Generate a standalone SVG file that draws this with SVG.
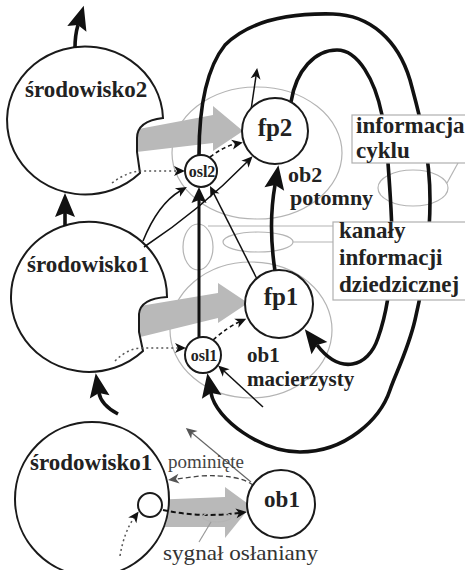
<svg xmlns="http://www.w3.org/2000/svg" width="465" height="570" viewBox="0 0 465 570">
<style>
.bg{fill:#ffffff}
.reg{fill:none;stroke:#b4b4b4;stroke-width:1.2}
.flow{fill:#b9b9b9;stroke:none}
.env{fill:#ffffff;stroke:#1a1a1a;stroke-width:2}
.nd{fill:#ffffff;stroke:#1a1a1a;stroke-width:2}
.box{fill:#ffffff;stroke:#b0b0b0;stroke-width:1.2}
.thick{fill:none;stroke:#111;stroke-width:3.6;stroke-linecap:butt}
.mid{fill:none;stroke:#111;stroke-width:3}
.thin{fill:none;stroke:#111;stroke-width:1.5}
.dash{fill:none;stroke:#111;stroke-width:1.6;stroke-dasharray:4,3}
.dot{fill:none;stroke:#555;stroke-width:1.5;stroke-dasharray:2,3}
.t{font-family:"Liberation Serif","Times New Roman",serif;font-weight:bold;fill:#222}
.tn{font-family:"Liberation Serif","Times New Roman",serif;font-weight:normal}
</style>
<defs>
<marker id="big" viewBox="-26 -12 28 24" refX="-20" refY="0" markerWidth="28" markerHeight="24" markerUnits="userSpaceOnUse" orient="auto"><path d="M0,0 L-24,-10 L-20,0 L-24,10 Z" fill="#111"/></marker>
<marker id="med" viewBox="-18 -9 20 18" refX="-13" refY="0" markerWidth="20" markerHeight="18" markerUnits="userSpaceOnUse" orient="auto"><path d="M0,0 L-16,-7.5 L-13,0 L-16,7.5 Z" fill="#111"/></marker>
<marker id="sm" viewBox="-12 -6 13 12" refX="-8" refY="0" markerWidth="13" markerHeight="12" markerUnits="userSpaceOnUse" orient="auto"><path d="M0,0 L-11,-5 L-8,0 L-11,5 Z" fill="#111"/></marker>
<marker id="smg" viewBox="-12 -6 13 12" refX="-8" refY="0" markerWidth="13" markerHeight="12" markerUnits="userSpaceOnUse" orient="auto"><path d="M0,0 L-11,-5 L-8,0 L-11,5 Z" fill="#555"/></marker>
</defs>
<rect class="bg" x="0" y="0" width="465" height="570"/>

<g id="regions">
<ellipse class="reg" cx="257" cy="153" rx="85" ry="66"/>
<ellipse class="reg" cx="251" cy="330" rx="81" ry="68"/>
<ellipse class="reg" cx="198" cy="247" rx="15" ry="23"/>
<ellipse class="reg" cx="258" cy="242" rx="35" ry="10"/>
<ellipse class="reg" cx="413" cy="188" rx="35" ry="18"/>
<line class="reg" x1="208" y1="226" x2="333" y2="226"/>
<line class="reg" x1="293" y1="242" x2="333" y2="242"/>
<line class="reg" x1="447" y1="183" x2="458" y2="163"/>
</g>

<g id="flows">
<path class="flow" d="M128,131 L213,115 L213,106 L243,131 L213,151 L213,143 L128,153 Z"/>
<path class="flow" d="M128,308 L218,293 L218,283 L248,303 L218,323 L218,318 L128,340 Z"/>
<path class="flow" d="M150,500 L225,497 L225,487 L251,506 L225,538 L225,527 L150,527 Z"/>
</g>

<g id="srodowisko2">
<path class="env" d="M163,118 A78,74 0 1 0 140,173 L137,152 L137,138 C137,126 146,120 163,118 Z"/>
<text class="t" x="25" y="97" font-size="23">środowisko2</text>
</g>
<g id="srodowisko1">
<path class="env" d="M167,297 A78,75 0 1 0 143,351 L139,332 L139,314 C140,303 150,298 167,297 Z"/>
<text class="t" x="27" y="272" font-size="23">środowisko1</text>
</g>
<g id="srodowisko1-dolne">
<circle class="env" cx="92" cy="499" r="77"/>
<text class="t" x="30" y="470" font-size="23">środowisko1</text>
</g>

<g id="connectors">
<path class="thick" d="M75,48 Q75,35 78,25" marker-end="url(#big)"/>
<path class="thick" d="M65,226 L65,213" marker-end="url(#big)"/>
<path class="thick" d="M118,414 Q101,405 99,393" marker-end="url(#big)"/>
<path class="thick" d="M199,155 C199,110 205,70 225,45 C250,20 290,13 333,14 C370,15 398,40 410,80 C418,110 430,150 430,200 C430,250 422,290 415,320 C408,350 395,375 390,390 C380,420 345,452 300,452 C262,452 216,420 211,393" marker-end="url(#big)"/>
<path class="thick" d="M291,102 C296,70 315,50 337,50 C358,50 375,80 382,115 L388,163 C390,190 392,222 392,240 C392,280 388,310 378,338 C368,368 340,375 317,345" marker-end="url(#big)"/>
<path class="thick" d="M275,271 Q268,225 275,185" marker-end="url(#big)"/>
<path class="mid" d="M199,337 L199,200" marker-end="url(#med)"/>
<path class="thin" d="M143,241 Q158,204 180,191" marker-end="url(#sm)"/>
<path class="thin" d="M144,247 Q200,210 247,162" marker-end="url(#sm)"/>
<path class="thin" d="M257,279 L213.6,193.1" marker-end="url(#sm)"/>
<path class="thin" d="M251,110 L256,76" marker-end="url(#sm)"/>
<path class="thin" d="M263,407 L224,371" marker-end="url(#sm)"/>
<path class="dash" d="M210,157 Q225,146 235,144" marker-end="url(#sm)"/>
<path class="dash" d="M213,340 Q228,327 239,322" marker-end="url(#sm)"/>
<path class="dot" d="M112,183 Q128,171 142,171 L177,171" marker-end="url(#sm)"/>
<path class="dot" d="M115,361 Q128,348 142,348 L178,348" marker-end="url(#sm)"/>
<path class="dot" d="M120,556 Q124,532 134,518" marker-end="url(#sm)"/>
<path fill="none" stroke="#111" stroke-width="2" stroke-dasharray="5,3" d="M163,510 Q200,518 239,513" marker-end="url(#sm)"/>
<path fill="none" stroke="#444" stroke-width="1.3" stroke-dasharray="5,3" d="M253,485 Q238,474 200,476 L176,479" marker-end="url(#smg)"/>
<path fill="none" stroke="#666" stroke-width="1.2" d="M251,482 L192,433" marker-end="url(#smg)"/>
<ellipse class="reg" cx="217" cy="517" rx="14" ry="5" stroke="#999"/>
<line x1="211" y1="522" x2="199" y2="542" stroke="#999" stroke-width="1.2"/>
</g>

<g id="fp2">
<circle class="nd" cx="275" cy="131" r="33"/>
<text class="t" x="275" y="136" font-size="25" text-anchor="middle">fp2</text>
</g>
<g id="fp1">
<circle class="nd" cx="279" cy="304" r="34"/>
<text class="t" x="281" y="305" font-size="25" text-anchor="middle">fp1</text>
</g>
<g id="osl2">
<circle class="nd" cx="201" cy="171" r="16"/>
<text class="t" x="202" y="177" font-size="16" text-anchor="middle">osl2</text>
</g>
<g id="osl1">
<circle class="nd" cx="203" cy="355" r="18"/>
<text class="t" x="204" y="361" font-size="16" text-anchor="middle">osl1</text>
</g>
<g id="ob1">
<circle class="nd" cx="281" cy="504" r="34"/>
<text class="t" x="282" y="507" font-size="23" text-anchor="middle">ob1</text>
</g>
<g id="sygnal">
<circle class="nd" cx="150" cy="505" r="12"/>
</g>

<g id="informacja-cyklu">
<rect class="box" x="352" y="115" width="120" height="48"/>
<text class="t" x="356" y="133" font-size="23">informacja</text>
<text class="t" x="356" y="158" font-size="23">cyklu</text>
</g>
<g id="kanaly">
<rect class="box" x="333" y="222" width="140" height="78"/>
<text class="t" x="339" y="238" font-size="23">kanały</text>
<text class="t" x="339" y="265" font-size="23">informacji</text>
<text class="t" x="339" y="292" font-size="23">dziedzicznej</text>
</g>
<g id="ob2-label">
<text class="t" x="288" y="182" font-size="22">ob2</text>
<text class="t" x="290" y="205" font-size="22">potomny</text>
</g>
<g id="ob1-label">
<text class="t" x="247" y="362" font-size="21">ob1</text>
<text class="t" x="247" y="386" font-size="21">macierzysty</text>
</g>
<g id="bottom-labels">
<text class="tn" x="168" y="468" font-size="19" fill="#444">pominięte</text>
<text class="tn" x="163" y="560" font-size="21" fill="#333" textLength="155" lengthAdjust="spacingAndGlyphs">sygnał osłaniany</text>
</g>
</svg>
